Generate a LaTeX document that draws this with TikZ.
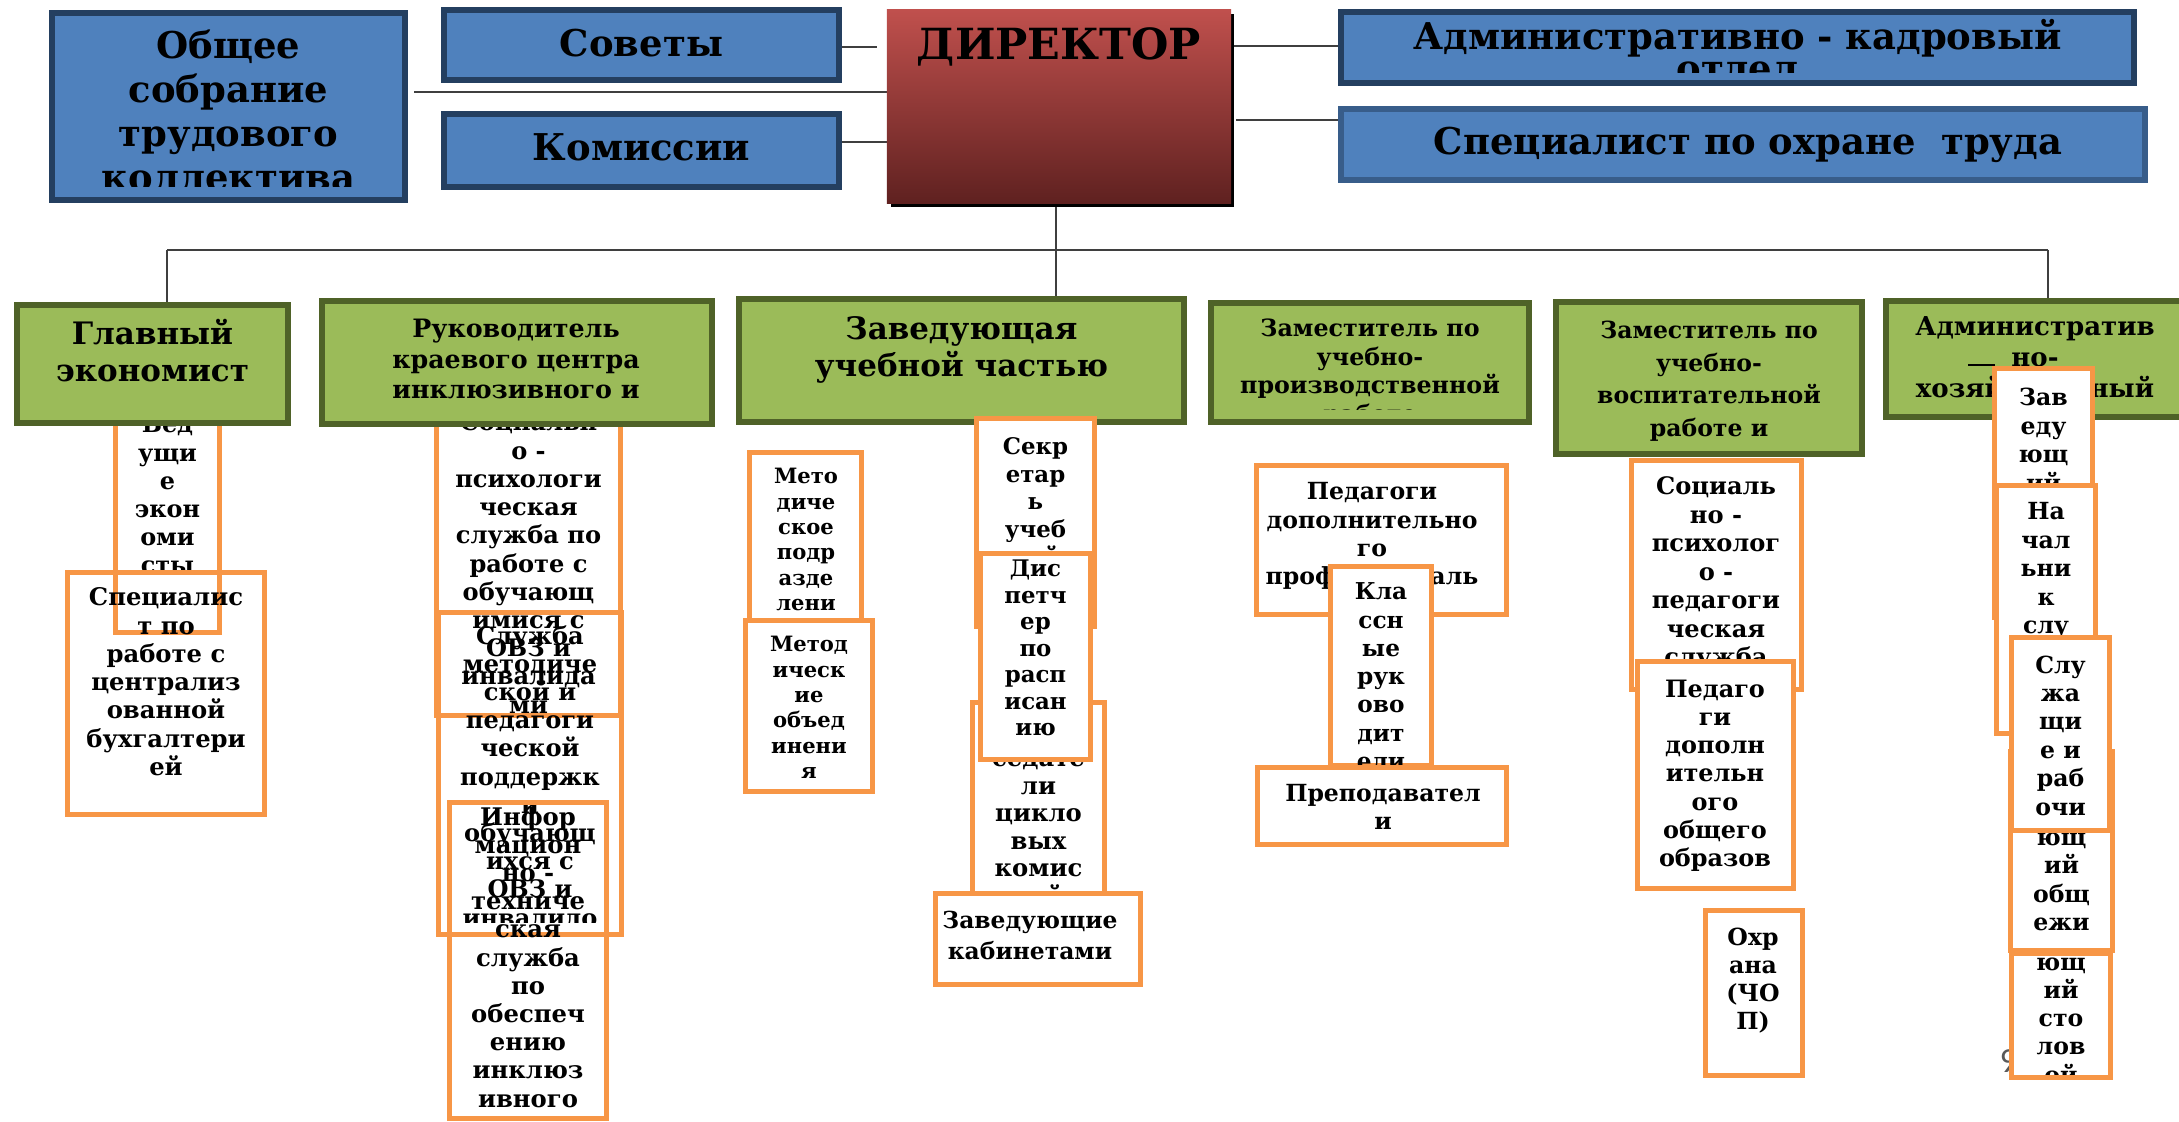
\documentclass[tikz,border=0pt]{standalone}
\usepackage{fontspec}
\setmainfont{DejaVu Serif}
\newfontfamily\numfont{Carlito}
\definecolor{bfill}{HTML}{4F81BD}
\definecolor{bdraw}{HTML}{243F60}
\definecolor{bdrawb}{HTML}{385D8A}
\definecolor{gfill}{HTML}{9BBB59}
\definecolor{gdraw}{HTML}{4F6228}
\definecolor{odraw}{HTML}{F79646}
\definecolor{dtop}{HTML}{C0504D}
\definecolor{dbot}{HTML}{5F2120}
\definecolor{lcol}{HTML}{3F3F3F}
\definecolor{pgnum}{HTML}{595959}
\newlength\bxw
\newlength\bxh
% style, name, x1, y1, x2, y2, line width in px
\newcommand\bx[7]{%
  \pgfmathsetlength\bxw{(#5-#3-#7)*0.284528pt}%
  \pgfmathsetlength\bxh{(#6-#4-#7)*0.284528pt}%
  \node[#1, minimum width=\bxw, minimum height=\bxh] (#2) at ({(#3+#5)/2},{(#4+#6)/2}) {};}
% name, clip x1, y1, x2, y2, centre x, first baseline y, content
\newcommand\tx[8]{%
  \begin{scope}
    \clip (#2,#3) rectangle (#4,#5);
    \node[anchor=base, inner sep=0pt, outer sep=0pt] (#1) at (#6,#7) {\parbox[t]{12cm}{\centering #8}};
  \end{scope}}
\newcommand\fs[2]{\fontsize{#1pt}{#2pt}\selectfont\bfseries}
\tikzset{
  base/.style={rectangle, inner sep=0pt, outer sep=0pt},
  bbox/.style={base, draw=bdraw, fill=bfill, line width=1.7pt},
  bboxb/.style={base, draw=bdrawb, fill=bfill, line width=1.7pt},
  gbox/.style={base, draw=gdraw, fill=gfill, line width=1.7pt},
  obox/.style={base, draw=odraw, fill=white, line width=1.42pt},
  oboxn/.style={base, draw=odraw, line width=1.42pt},
  dirbox/.style={base, top color=dtop, bottom color=dbot, draw=none},
  shadowbox/.style={base, fill=black, draw=none},
  conn/.style={draw=lcol, line width=0.6pt}
}
\begin{document}
\begin{tikzpicture}[x=0.01cm, y=-0.01cm]
\useasboundingbox (0,0) rectangle (2179,1122);
\clip (0,0) rectangle (2179,1122);

% ---------- connectors ----------
\coordinate (l1a) at (414,92);   \coordinate (l1b) at (887,92);
\coordinate (l2a) at (842,47);   \coordinate (l2b) at (877,47);
\coordinate (l3a) at (842,142);  \coordinate (l3b) at (887,142);
\coordinate (l4a) at (1231,46);  \coordinate (l4b) at (1338,46);
\coordinate (l5a) at (1236,120); \coordinate (l5b) at (1338,120);
\coordinate (l6a) at (1056,207); \coordinate (l6b) at (1056,296);
\coordinate (l7a) at (167,250);  \coordinate (l7b) at (2048,250);
\coordinate (l8b) at (167,302);
\coordinate (l9b) at (2048,298);
\draw[conn] (l1a) -- (l1b);
\draw[conn] (l2a) -- (l2b);
\draw[conn] (l3a) -- (l3b);
\draw[conn] (l4a) -- (l4b);
\draw[conn] (l5a) -- (l5b);
\draw[conn] (l6a) -- (l6b);
\draw[conn] (l7a) -- (l7b);
\draw[conn] (l7a) -- (l8b);
\draw[conn] (l7b) -- (l9b);

% ---------- top row ----------
\bx{bbox}{obsh}{49}{10}{408}{203}{6}
\tx{obsht}{55}{16}{402}{187}{228.5}{59}{\fs{10.5}{12.47}Общее\\собрание\\трудового\\коллектива}
\bx{bbox}{sov}{441}{7}{842}{83}{6}
\tx{sovt}{447}{13}{836}{77}{641.5}{57}{\fs{10.5}{12.5}Советы}
\bx{bbox}{kom}{441}{111}{842}{190}{6}
\tx{komt}{447}{117}{836}{184}{641.5}{161}{\fs{10.5}{12.5}Комиссии}
\bx{shadowbox}{dirsh}{891}{14}{1234}{207}{0}
\bx{dirbox}{dir}{887}{10}{1231}{203}{0}
\tx{dirt}{887}{10}{1231}{203}{1059}{60}{\fs{12.2}{15}ДИРЕКТОР}
\bx{bbox}{ako}{1338}{9}{2137}{86}{6}
\tx{akot}{1344}{15}{2131}{73}{1737.5}{50}{\fs{10.5}{9}Административно - кадровый\\отдел}
\bx{bboxb}{ohr}{1338}{106}{2148}{183}{6}
\tx{ohrt}{1344}{112}{2142}{177}{1748}{155}{\fs{10.5}{12.5}Специалист по охране\ \ труда}

% ---------- column 1 ----------
\bx{obox}{ved}{113}{420}{222}{635}{5}
\tx{vedt}{117}{420}{218}{572}{167.5}{433}{\fs{6.8}{8}Вед\\ущи\\е\\экон\\оми\\сты}
\bx{gbox}{g1}{14}{302}{291}{426}{6}
\tx{g1t}{20}{308}{285}{420}{152.5}{345}{\fs{8.8}{10.5}Главный\\экономист}
\bx{oboxn}{spc}{65}{570}{267}{817}{5}
\tx{spct}{70}{575}{262}{812}{166}{606}{\fs{6.9}{8.02}Специалис\\т по\\работе с\\централиз\\ованной\\бухгалтери\\ей}

% ---------- column 2 ----------
\bx{oboxn}{soc}{434}{418}{623}{718}{5}
\tx{soct}{438}{418}{619}{713}{528.5}{431}{\fs{6.85}{8.02}Социальн\\о -\\психологи\\ческая\\служба по\\работе с\\обучающ\\имися с\\ОВЗ и\\инвалида\\ми}
\bx{oboxn}{slu}{436}{610}{624}{937}{5}
\tx{slut}{440}{614}{620}{922}{530}{644}{\fs{6.85}{8.02}Служба\\методиче\\ской и\\педагоги\\ческой\\поддержк\\и\\обучающ\\ихся с\\ОВЗ и\\инвалидо\\в}
\bx{oboxn}{inf}{447}{800}{609}{1121}{5}
\tx{inft}{451}{805}{605}{1112}{528}{825}{\fs{6.9}{8.02}Инфор\\мацион\\но -\\техниче\\ская\\служба\\по\\обеспеч\\ению\\инклюз\\ивного\\образов}
\bx{gbox}{g2}{319}{298}{715}{427}{6}
\tx{g2t}{325}{304}{709}{412}{516}{338}{\fs{7.2}{8.65}Руководитель\\краевого центра\\инклюзивного и\\специального\\образования}

% ---------- column 3 ----------
\bx{obox}{mpd}{747}{450}{864}{624}{5}
\tx{mpdt}{751}{454}{860}{614}{806}{484}{\fs{6}{7.2}Мето\\диче\\ское\\подр\\азде\\лени\\я}
\bx{obox}{mob}{743}{618}{875}{794}{5}
\tx{mobt}{747}{622}{871}{790}{809}{652}{\fs{6}{7.2}Метод\\ическ\\ие\\объед\\инени\\я}
\bx{gbox}{g3}{736}{296}{1187}{425}{6}
\tx{g3t}{742}{302}{1181}{419}{961.5}{340}{\fs{8.8}{10.3}Заведующая\\учебной частью}
\bx{obox}{pred}{970}{700}{1107}{896}{5}
\tx{predt}{974}{704}{1103}{891}{1038.5}{739}{\fs{6.9}{7.82}Пред\\седате\\ли\\цикло\\вых\\комис\\сий}
\bx{obox}{sek}{974}{416}{1097}{629}{5}
\tx{sekt}{978}{420}{1093}{625}{1035.5}{455}{\fs{6.5}{7.8}Секр\\етар\\ь\\учеб\\ной\\части}
\bx{obox}{disp}{978}{551}{1093}{762}{5}
\tx{dispt}{982}{555}{1089}{758}{1035.5}{577}{\fs{6.5}{7.52}Дис\\петч\\ер\\по\\расп\\исан\\ию}
\bx{obox}{zkab}{933}{891}{1143}{987}{5}
\tx{zkabt}{937}{895}{1139}{983}{1030}{928}{\fs{6.65}{8.9}Заведующие\\кабинетами}

% ---------- column 4 ----------
\bx{gbox}{g4}{1208}{300}{1532}{425}{6}
\tx{g4t}{1214}{306}{1526}{410}{1370}{337}{\fs{6.75}{8.1}Заместитель по\\учебно-\\производственной\\работе}
\bx{obox}{pdo}{1254}{463}{1509}{617}{5}
\tx{pdot}{1258}{467}{1505}{613}{1372}{500}{\fs{6.7}{8.02}Педагоги\\дополнительно\\го\\профессиональ\\ного\\образования}
\bx{obox}{kl}{1328}{564}{1434}{768}{5}
\tx{klt}{1332}{568}{1430}{764}{1381}{600}{\fs{6.6}{8.02}Кла\\ссн\\ые\\рук\\ово\\дит\\ели}
\bx{obox}{prp}{1255}{765}{1509}{847}{5}
\tx{prpt}{1259}{769}{1505}{843}{1383}{801}{\fs{6.7}{8.02}Преподавател\\и}

% ---------- column 5 ----------
\bx{gbox}{g5}{1553}{299}{1865}{457}{6}
\tx{g5t}{1559}{305}{1859}{450}{1709}{339}{\fs{6.7}{9.2}Заместитель по\\учебно-\\воспитательной\\работе и\\социальным вопросам}
\bx{obox}{spp}{1629}{458}{1804}{692}{5}
\tx{sppt}{1633}{462}{1800}{688}{1716}{495}{\fs{6.85}{8.1}Социаль\\но -\\психолог\\о -\\педагоги\\ческая\\служба}
\bx{obox}{pdoo}{1635}{659}{1796}{891}{5}
\tx{pdoot}{1639}{663}{1792}{878}{1715}{697}{\fs{6.8}{8.05}Педаго\\ги\\дополн\\ительн\\ого\\общего\\образов\\ания}
\bx{obox}{chop}{1703}{908}{1805}{1078}{5}
\tx{chopt}{1707}{912}{1801}{1074}{1753}{945}{\fs{6.7}{8.05}Охр\\ана\\(ЧО\\П)}

% ---------- column 6 ----------
\bx{gbox}{g6}{1883}{298}{2190}{420}{6}
\tx{g6t}{1889}{304}{2179}{412}{2035}{336}{\fs{7.4}{8.8}Административ\\но-\\хозяйственный}
\coordinate (d1) at (1968,365); \coordinate (d2) at (1995,365);
\draw[draw=black, line width=0.6pt] (d1) -- (d2);
\node[anchor=base west, inner sep=0pt, text=pgnum] (pnum) at (1999,1072) {\numfont\fontsize{10}{12}\selectfont 9};
\bx{obox}{stol}{2009}{951}{2113}{1080}{5}
\tx{stolt}{2013}{955}{2109}{1074}{2061}{913.4}{\fs{6.7}{8.05}Зав\\еду\\ющ\\ий\\сто\\лов\\ой}
\bx{obox}{obz}{2008}{749}{2115}{953}{5}
\tx{obzt}{2012}{753}{2111}{940}{2061.5}{789}{\fs{6.7}{8.05}Зав\\еду\\ющ\\ий\\общ\\ежи\\тием}
\bx{obox}{zav}{1992}{366}{2095}{620}{5}
\tx{zavt}{1996}{370}{2091}{616}{2043.5}{406}{\fs{6.7}{8.1}Зав\\еду\\ющ\\ий\\хоз\\яйс\\твом}
\bx{obox}{nach}{1994}{483}{2098}{736}{5}
\tx{nacht}{1998}{487}{2094}{732}{2046}{520}{\fs{6.7}{8.1}На\\чал\\ьни\\к\\слу\\жбы}
\bx{obox}{slzh}{2009}{635}{2112}{833}{5}
\tx{slzht}{2013}{639}{2108}{826}{2060.5}{673}{\fs{6.7}{8.1}Слу\\жа\\щи\\е и\\раб\\очи\\е}
\end{tikzpicture}
\end{document}
